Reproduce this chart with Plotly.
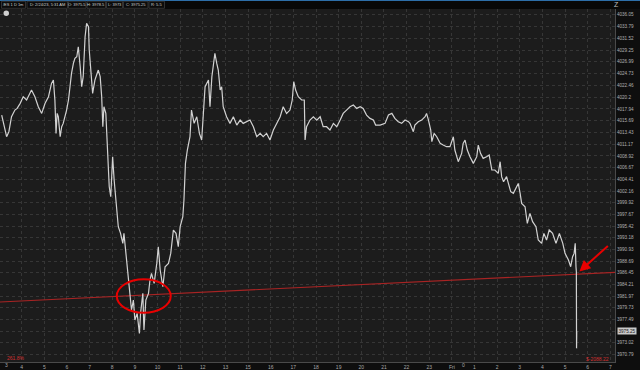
import plotly.graph_objects as go

# ---------------- data ----------------
# x: minutes since Thu 03:00 PT on the session clock (14:00-15:00 halt removed)
minutes = [7, 13, 20, 26, 33, 42, 48, 56, 64, 73, 80, 86, 95, 104, 113, 122, 131, 135, 139, 144,
           148, 151, 154, 157, 162, 166, 170, 179, 184, 188, 192, 197, 201, 206, 210, 215, 219, 223,
           228, 232, 237, 239, 243, 248, 254, 259, 263, 268, 272, 275, 278, 283, 287, 292, 296, 301,
           305, 310, 316, 322, 328, 331, 336, 343, 347, 351, 356, 360, 366, 372, 375, 381, 384, 389,
           396, 400, 404, 411, 418, 422, 427, 434, 440, 449, 455, 462, 469, 475, 480, 487, 490, 494,
           499, 506, 510, 517, 524, 531, 537, 541,
           546, 555, 559, 564, 568, 572, 577, 581, 586, 590, 594, 603, 612, 621, 630, 639, 647, 656,
           665, 674, 683, 692, 700, 709, 718, 727, 736, 745, 753, 762, 771, 777, 781, 786, 793, 802,
           809, 811, 815, 824, 833, 842, 851, 859, 868, 877, 886, 895, 904, 912, 921, 930, 939, 948,
           957, 965, 974, 983, 992, 998, 1010, 1023, 1032, 1041, 1049, 1058, 1067, 1076, 1085,
           1089, 1098, 1102, 1111, 1120, 1129, 1133, 1138, 1144, 1147, 1153, 1160, 1169, 1177, 1186,
           1195, 1204, 1208, 1217, 1226, 1230, 1235, 1241, 1248, 1257, 1266, 1270, 1276, 1283, 1292,
           1299, 1306, 1314, 1323, 1328, 1332, 1337, 1345, 1350, 1356, 1363, 1370, 1376, 1381, 1385,
           1394, 1400, 1407, 1414, 1423, 1429, 1438, 1444, 1451, 1458, 1467, 1476, 1485, 1494, 1500,
           1509, 1515, 1520, 1524, 1527, 1529, 1530, 1530.5, 1531]

prices = [4016.77, 4014.53, 4012.61, 4013.57, 4016.45, 4017.73, 4018.05, 4019.02, 4020.30, 4019.66,
          4020.62, 4021.58, 4020.30, 4018.37, 4017.09, 4019.02, 4020.30, 4021.58, 4022.86, 4023.50,
          4019.66, 4013.25, 4017.09, 4016.45, 4012.61, 4014.53, 4015.17, 4017.73, 4019.66, 4022.22,
          4024.78, 4026.70, 4027.66, 4027.98, 4029.90, 4026.06, 4022.22, 4024.14, 4031.82, 4034.39,
          4033.75, 4029.26, 4026.06, 4020.94, 4023.50, 4024.78, 4025.42, 4024.14, 4020.30, 4014.53,
          4018.37, 4017.09, 4010.05, 4003.00, 4001.08, 4008.77, 4004.28, 4000.44, 3995.32, 3994.04,
          3992.12, 3994.04, 3990.19, 3985.71, 3982.51, 3979.31, 3981.23, 3977.38, 3978.67, 3974.82,
          3978.67, 3982.51, 3975.46, 3981.23, 3982.51, 3985.07, 3986.35, 3984.43, 3988.27, 3991.48,
          3986.99, 3983.79, 3987.63, 3988.27, 3990.19, 3994.68, 3994.04, 3991.48, 3995.32, 3997.24,
          4000.44, 4007.49, 4010.05, 4012.61, 4017.73, 4015.17, 4016.45, 4013.25, 4011.97, 4017.73,
          4022.22, 4023.50, 4018.37, 4024.14, 4026.70, 4028.62, 4026.70, 4025.42, 4021.58, 4022.22,
          4018.37, 4016.45, 4015.17, 4016.45, 4014.85, 4015.81, 4015.17, 4015.49, 4015.81, 4014.53,
          4012.61, 4013.25, 4012.61, 4013.25, 4011.97, 4013.89, 4015.17, 4016.45, 4018.37, 4017.09,
          4017.73, 4019.66, 4023.18, 4021.58, 4020.30, 4019.66, 4019.66, 4011.97, 4014.53, 4015.81,
          4016.45, 4015.81, 4016.45, 4014.53, 4014.53, 4013.89, 4015.17, 4014.53, 4015.81, 4017.09,
          4017.73, 4018.37, 4018.70, 4018.05, 4018.37, 4018.05, 4016.77, 4016.13, 4015.81, 4014.85,
          4014.85, 4015.17, 4016.77, 4017.09, 4016.13, 4015.49, 4015.17, 4015.81, 4015.49,
          4015.17, 4013.57, 4014.85, 4015.49, 4015.81, 4016.45, 4017.09, 4015.81, 4013.89, 4011.65,
          4013.25, 4012.61, 4011.33, 4011.01, 4010.69, 4010.69, 4012.61, 4010.05, 4007.81, 4009.41,
          4011.33, 4011.97, 4010.05, 4008.77, 4007.49, 4008.77, 4011.01, 4009.41, 4008.45, 4008.77,
          4009.09, 4006.21, 4006.21, 4005.57, 4007.81, 4004.93, 4003.96, 4004.93, 4003.64, 4002.04,
          4001.72, 4002.68, 4003.64, 4001.72, 3999.80, 3999.16, 3995.96, 3997.88, 3996.28, 3995.32,
          3992.76, 3992.12, 3994.04, 3992.76, 3994.68, 3994.04, 3992.12, 3994.04, 3992.12, 3990.19,
          3988.91, 3987.63, 3989.55, 3990.19, 3992.12, 3987.63, 3986.67, 3971.94, 3975.25]

# hand-drawn trend line (start / end of visible window)
trend_minutes = [0, 1640]
trend_prices = [3980.85, 3986.57]

hour_tick_minutes = [60 * k for k in range(1, 28)]
hour_tick_labels = ["4", "5", "6", "7", "8", "9", "10", "11", "12", "13", "15", "16", "17", "18",
                    "19", "20", "21", "22", "23", "Fri", "1", "2", "3", "4", "5", "6", "7"]

price_ticks = [4036.05, 4033.79, 4031.52, 4029.25, 4026.99, 4024.73, 4022.46, 4020.2, 4017.94,
               4015.69, 4013.43, 4011.17, 4008.92, 4006.67, 4004.41, 4002.16, 3999.92, 3997.67,
               3995.42, 3993.18, 3990.93, 3988.69, 3986.45, 3984.21, 3981.97, 3979.73, 3977.49,
               3975.25, 3973.02, 3970.79]

header_items = ["/ES 1 D 1m", "D: 2/24/23, 5:31 AM", "O: 3975.5", "H: 3978.5", "L: 3973",
                "C: 3975.25", "R: 5.5"]
last_price = 3975.25

# ---------------- layout geometry (pixels) ----------------
W, H = 640, 370
ML, MR, MT, MB = 0, 25, 9, 8
PW, PH = W - ML - MR, H - MT - MB
FONT = "Liberation Sans, Arial, sans-serif"


def fx(px):
    return (px - ML) / PW


def fy(py):
    return 1 - (py - MT) / PH


def fmt(v):
    s = f"{v:.2f}"
    return s[:-1] if s.endswith("0") else s


fig = go.Figure()
fig.add_trace(go.Scatter(x=trend_minutes, y=trend_prices, mode="lines",
                         line=dict(color="#a82424", width=1.1), hoverinfo="skip"))
fig.add_trace(go.Scatter(x=minutes, y=prices, mode="lines",
                         line=dict(color="#d2d2d2", width=1.2), hoverinfo="skip"))

shapes = []
# header bar
shapes.append(dict(type="rect", xref="paper", yref="paper", x0=0, x1=W / PW, y0=fy(MT), y1=fy(0),
                   fillcolor="#080808", line=dict(width=0), layer="below"))
shapes.append(dict(type="line", xref="paper", yref="paper", x0=0, x1=W / PW, y0=fy(0.5), y1=fy(0.5),
                   line=dict(color="#2d6ea8", width=1)))
box_px = [(1.5, 25.5), (27, 67.5), (68.5, 86), (87, 105.5), (106.5, 122.5), (123.5, 148), (149, 164.5)]
annotations = []
for (a, b), txt in zip(box_px, header_items):
    shapes.append(dict(type="rect", xref="paper", yref="paper", x0=fx(a), x1=fx(b), y0=fy(8.3), y1=fy(1.3),
                       fillcolor="#0b0b0b", line=dict(color="#3c3c3c", width=0.8)))
    annotations.append(dict(xref="paper", yref="paper", x=fx((a + b) / 2), y=fy(4.9), text=txt,
                            showarrow=False, font=dict(size=4.0, color="#cfcfcf", family=FONT),
                            xanchor="center", yanchor="middle"))
# little round icon
shapes.append(dict(type="circle", xref="paper", yref="paper", x0=fx(3.5), x1=fx(9), y0=fy(16), y1=fy(10.5),
                   fillcolor="#d0d0d0", line=dict(width=0)))
# red ellipse around the retest
shapes.append(dict(type="circle", xref="x", yref="y", x0=312, x1=455, y0=3978.8, y1=3985.2,
                   line=dict(color="#e80000", width=2)))

# red arrow toward the last bar
annotations.append(dict(x=1538, y=3986.7, xref="x", yref="y", ax=30, ay=-27, text="",
                        showarrow=True, arrowhead=2, arrowsize=1.1, arrowwidth=2, arrowcolor="#e80000"))
# current price tag (replaces the axis label at that level)
annotations.append(dict(xref="paper", yref="y", x=1, y=last_price, xanchor="left", xshift=1.5,
                        text=fmt(last_price), showarrow=False, bgcolor="#c9c9c9",
                        font=dict(size=4.6, color="#1a1a1a", family=FONT), borderpad=0.5))
# first hour label, drawn inside the left edge, and the half-hour mark after midnight
annotations.append(dict(xref="paper", yref="paper", x=fx(3.3), y=fy(365.5), text="3", showarrow=False,
                        font=dict(size=5, color="#a8a8a8", family=FONT), yanchor="middle"))
annotations.append(dict(xref="x", yref="paper", x=1230, y=fy(365.5), text="0", showarrow=False,
                        font=dict(size=5, color="#a8a8a8", family=FONT), yanchor="middle"))
# corner read-outs
annotations.append(dict(xref="paper", yref="paper", x=fx(5), y=fy(358), text="261.8%", showarrow=False,
                        xanchor="left", yanchor="middle", font=dict(size=5, color="#d23030", family=FONT)))
annotations.append(dict(xref="paper", yref="paper", x=fx(610.5), y=fy(359), text="$-2088.22",
                        showarrow=False, xanchor="right", yanchor="middle",
                        font=dict(size=5, color="#d23030", family=FONT)))
# top-right icon
annotations.append(dict(xref="paper", yref="paper", x=fx(621), y=fy(4.5), text="Z", showarrow=False,
                        font=dict(size=7, color="#bdbdbd", family=FONT), yanchor="middle"))

fig.update_layout(
    width=W, height=H, autosize=False,
    margin=dict(l=ML, r=MR, t=MT, b=MB, pad=0),
    paper_bgcolor="#0e0e0e", plot_bgcolor="#1c1c1c",
    showlegend=False, template="none",
    shapes=shapes, annotations=annotations,
    xaxis=dict(range=[2.5, 1632.4], tickmode="array", tickvals=hour_tick_minutes,
               ticktext=hour_tick_labels, showgrid=True, gridcolor="#363636", griddash="dot",
               gridwidth=1, zeroline=False, showline=True, linecolor="#4a4a4a", linewidth=1,
               ticks="", ticklen=0, tickfont=dict(size=5, color="#a8a8a8", family=FONT),
               automargin=False, fixedrange=True),
    yaxis=dict(range=[3969.32, 4037.15], side="right", tickmode="array", tickvals=price_ticks,
               ticktext=["" if v == last_price else fmt(v) for v in price_ticks],
               showgrid=True, gridcolor="#363636", griddash="dot", gridwidth=1, zeroline=False,
               showline=True, linecolor="#4a4a4a", linewidth=1, ticks="", ticklen=2,
               tickfont=dict(size=4.6, color="#b0b0b0", family=FONT), automargin=False,
               fixedrange=True),
)

fig.write_html("out.html")
